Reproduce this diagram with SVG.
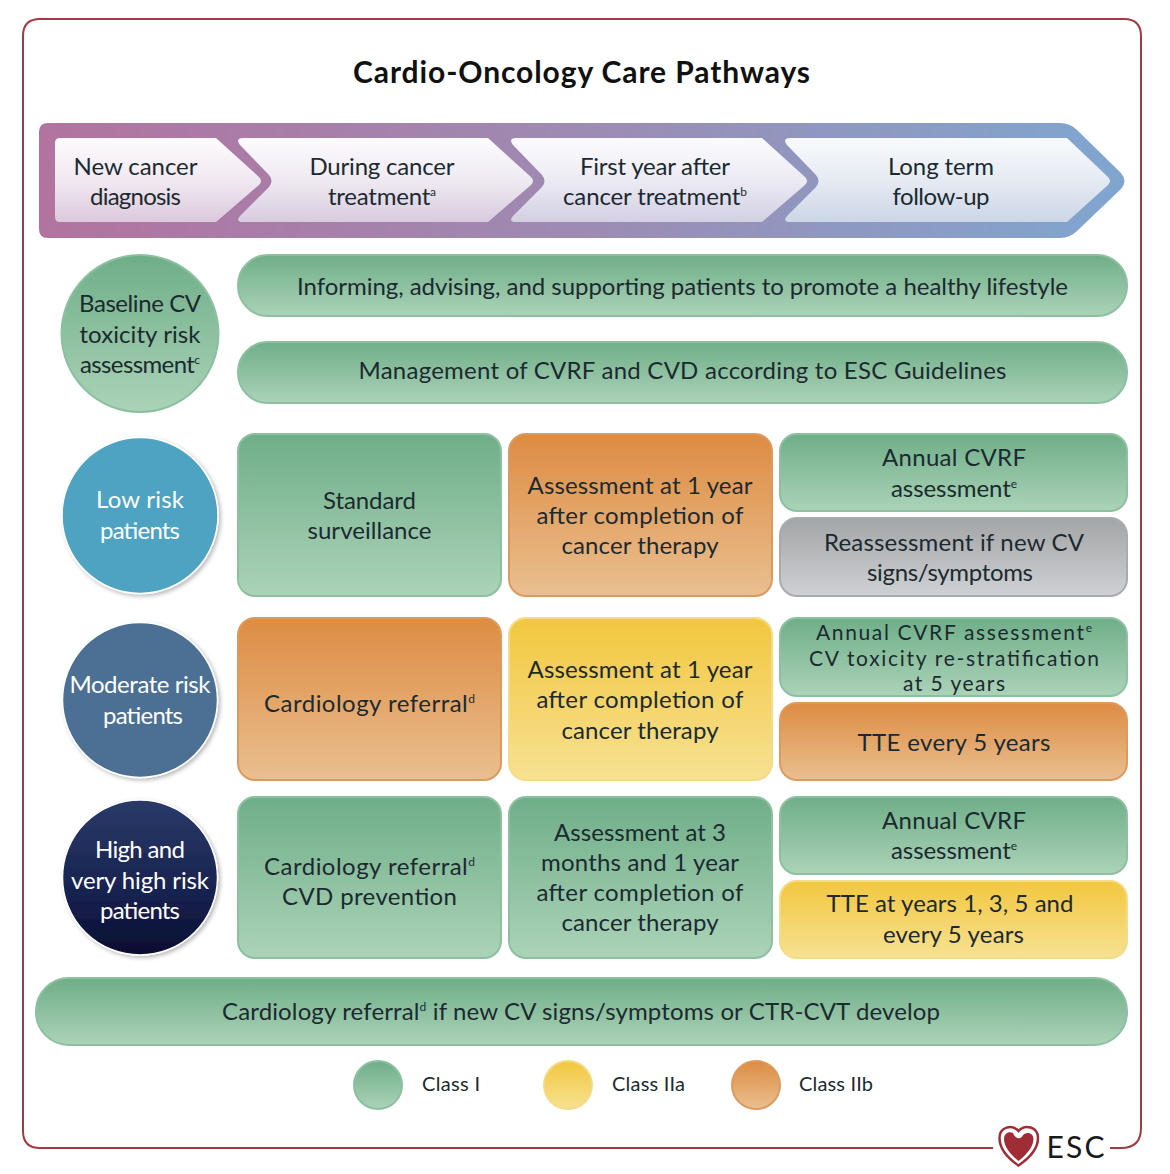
<svg xmlns="http://www.w3.org/2000/svg" width="1170" height="1174" viewBox="0 0 1170 1174">
<style>
text{font-family:"Lato","Open Sans","Liberation Sans",sans-serif;font-size:24px;fill:#1c2a30;text-anchor:middle}
.w{fill:#fff}
.sup{font-size:12px}
.g{fill:url(#green);stroke:#8cc0a0;stroke-width:2}
.o{fill:url(#orange);stroke:#dd9a5e;stroke-width:2}
.y{fill:url(#yellow);stroke:#f3dc85;stroke-width:2}
.s{fill:url(#grey);stroke:#a9abae;stroke-width:2}
.leg{font-size:20px}
.tight{font-size:21px}
.rim{stroke:#fff;stroke-width:1.500;filter:url(#sh)}
</style>
<defs>
<linearGradient id="green" x1="0" y1="0" x2="0" y2="1"><stop offset="0" stop-color="#6fae88"/><stop offset="1" stop-color="#abd3b8"/></linearGradient>
<linearGradient id="orange" x1="0" y1="0" x2="0" y2="1"><stop offset="0" stop-color="#dd8c42"/><stop offset="1" stop-color="#eabf90"/></linearGradient>
<linearGradient id="yellow" x1="0" y1="0" x2="0" y2="1"><stop offset="0" stop-color="#f2c73f"/><stop offset="1" stop-color="#f7e192"/></linearGradient>
<linearGradient id="grey" x1="0" y1="0" x2="0" y2="1"><stop offset="0" stop-color="#a3a4a6"/><stop offset="1" stop-color="#cfd1d4"/></linearGradient>
<linearGradient id="band" x1="0" y1="0" x2="1" y2="0"><stop offset="0" stop-color="#b2739f"/><stop offset="0.5" stop-color="#9d8bb3"/><stop offset="1" stop-color="#7fa6d0"/></linearGradient>
<linearGradient id="chev1" x1="0" y1="0" x2="0" y2="1"><stop offset="0" stop-color="#fdfbfd"/><stop offset="0.5" stop-color="#f1e9f1"/><stop offset="1" stop-color="#dcc9dc"/></linearGradient>
<linearGradient id="chev2" x1="0" y1="0" x2="0" y2="1"><stop offset="0" stop-color="#fcfbfd"/><stop offset="0.5" stop-color="#efeaf2"/><stop offset="1" stop-color="#d8cbde"/></linearGradient>
<linearGradient id="chev3" x1="0" y1="0" x2="0" y2="1"><stop offset="0" stop-color="#fbfbfe"/><stop offset="0.5" stop-color="#ecebf4"/><stop offset="1" stop-color="#d2cfe2"/></linearGradient>
<linearGradient id="chev4" x1="0" y1="0" x2="0" y2="1"><stop offset="0" stop-color="#f8fafd"/><stop offset="0.5" stop-color="#e6ebf3"/><stop offset="1" stop-color="#ccd6e6"/></linearGradient>
<linearGradient id="high" x1="0" y1="0" x2="0" y2="1"><stop offset="0" stop-color="#2a3a68"/><stop offset="0.6" stop-color="#18224f"/><stop offset="1" stop-color="#090d30"/></linearGradient>
<filter id="sh" x="-20%" y="-20%" width="140%" height="140%"><feDropShadow dx="2" dy="2" stdDeviation="2" flood-color="#000" flood-opacity="0.28"/></filter>
</defs>
<rect width="1170" height="1174" fill="#fff"/>
<g id="frame">
<path d="M993 1148H40Q23 1148 23 1131V36Q23 19 40 19H1124Q1141 19 1141 36V1128Q1141 1148 1121 1148H1110" fill="none" stroke="#a23a42" stroke-width="2"/>
<path d="M1018.500 1165.500C1009 1159 999.500 1149 999.500 1138C999.500 1127 1012 1123.500 1018.500 1131C1025 1123.500 1038 1127 1038 1138C1038 1149 1028 1159 1018.500 1165.500Z" fill="#fff" stroke="#a02c35" stroke-width="2.500"/>
<path d="M1018.500 1161C1011 1155 1004 1147 1004 1139C1004 1133 1009 1131 1013 1133C1015 1139 1021 1140 1023 1135C1027 1131 1033.500 1133 1033.500 1139C1033.500 1147 1026 1155 1018.500 1161Z" fill="#a02c35"/>
<text x="1075.500" y="1158" style="font-size:30px;fill:#1a1a1a" textLength="58">ESC</text>
</g>
<text id="title" x="581.500" y="83" style="font-size:30px;font-weight:700;fill:#111" textLength="457" lengthAdjust="spacing">Cardio-Oncology Care Pathways</text>
<g id="timeline">
<path d="M48 123H1060Q1070 123 1077 130L1121 173Q1128 181 1121 189L1077 231Q1070 238 1060 238H48Q39 238 39 229V132Q39 123 48 123Z" fill="url(#band)"/>
</g>
<g id="new-cancer-diagnosis">
<path d="M60 138H216L259 177Q263 181 259 185L216 222H60Q55 222 55 217V143Q55 138 60 138Z" fill="url(#chev1)"/>
<text x="135.500" y="175" textLength="124">New cancer</text><text x="135.500" y="205" textLength="91">diagnosis</text>
</g>
<g id="during-cancer-treatment">
<path d="M243 138H488L531 177Q535 181 531 185L488 222H243Q235 222 240 216L269 187Q274 181 269 175L240 145Q235 138 243 138Z" fill="url(#chev2)"/>
<text x="382" y="175" textLength="145">During cancer</text><text x="382" y="205" textLength="108">treatment<tspan class="sup" dy="-9">a</tspan></text>
</g>
<g id="first-year-after">
<path d="M516 138H762L805 177Q809 181 805 185L762 222H516Q508 222 513 216L542 187Q547 181 542 175L513 145Q508 138 516 138Z" fill="url(#chev3)"/>
<text x="655" y="175" textLength="150">First year after</text><text x="655" y="205" textLength="184">cancer treatment<tspan class="sup" dy="-9">b</tspan></text>
</g>
<g id="long-term-follow-up">
<path d="M790 138H1067L1108 177Q1112 181 1108 185L1067 222H790Q782 222 787 216L816 187Q821 181 816 175L787 145Q782 138 790 138Z" fill="url(#chev4)"/>
<text x="941" y="175" textLength="106">Long term</text><text x="941" y="205" textLength="97">follow-up</text>
</g>
<g id="baseline"><circle class="g" cx="140" cy="333.500" r="78.500"/>
<text x="140" y="312" textLength="122">Baseline CV</text><text x="140" y="343" textLength="121">toxicity risk</text><text x="140" y="373" textLength="120">assessment<tspan class="sup" dy="-9">c</tspan></text></g>
<g id="lifestyle"><rect class="g" x="238" y="255" width="889" height="61" rx="30"/>
<text x="682.500" y="295" textLength="771">Informing, advising, and supporting patients to promote a healthy lifestyle</text></g>
<g id="management"><rect class="g" x="238" y="342" width="889" height="61" rx="30"/>
<text x="682.500" y="379" textLength="648">Management of CVRF and CVD according to ESC Guidelines</text></g>
<g id="low-risk"><circle class="rim" cx="140" cy="515.500" r="78" fill="#4ea3c1"/>
<text class="w" x="140" y="508" textLength="88">Low risk</text><text class="w" x="140" y="539" textLength="80">patients</text></g>
<g id="low-1"><rect class="g" x="238" y="434" width="263" height="162" rx="17"/>
<text x="369.500" y="509" textLength="93">Standard</text><text x="369.500" y="539" textLength="124">surveillance</text></g>
<g id="low-2"><rect class="o" x="509" y="434" width="263" height="162" rx="17"/>
<text x="640" y="494" textLength="225">Assessment at 1 year</text><text x="640" y="524" textLength="207">after completion of</text><text x="640" y="554" textLength="157">cancer therapy</text></g>
<g id="low-3"><rect class="g" x="780" y="434" width="347" height="77" rx="17"/>
<text x="954" y="466" textLength="144">Annual CVRF</text><text x="954" y="497" textLength="126">assessment<tspan class="sup" dy="-9">e</tspan></text></g>
<g id="low-4"><rect class="s" x="780" y="518" width="347" height="78" rx="17"/>
<text x="954" y="551" textLength="260">Reassessment if new CV</text><text x="950" y="581" textLength="166">signs/symptoms</text></g>
<g id="moderate-risk"><circle class="rim" cx="140" cy="700" r="77.500" fill="#4b6f93"/>
<text class="w" x="140" y="693" textLength="141">Moderate risk</text><text class="w" x="143" y="724" textLength="80">patients</text></g>
<g id="mod-1"><rect class="o" x="238" y="618" width="263" height="162" rx="17"/>
<text x="369.500" y="712" textLength="211">Cardiology referral<tspan class="sup" dy="-9">d</tspan></text></g>
<g id="mod-2"><rect class="y" x="509" y="618" width="263" height="162" rx="17"/>
<text x="640" y="678" textLength="225">Assessment at 1 year</text><text x="640" y="708" textLength="207">after completion of</text><text x="640" y="739" textLength="157">cancer therapy</text></g>
<g id="mod-3"><rect class="g" x="780" y="618" width="347" height="78" rx="17"/>
<text class="tight" x="954" y="640" textLength="276">Annual CVRF assessment<tspan class="sup" dy="-8">e</tspan></text><text class="tight" x="954" y="665.500" textLength="290">CV toxicity re-stratification</text><text class="tight" x="954" y="691" textLength="102">at 5 years</text></g>
<g id="mod-4"><rect class="o" x="780" y="703" width="347" height="77" rx="17"/>
<text x="954" y="751" textLength="193">TTE every 5 years</text></g>
<g id="high-risk"><circle class="rim" cx="140" cy="877.500" r="77.500" fill="url(#high)"/>
<text class="w" x="140" y="858" textLength="90">High and</text><text class="w" x="140" y="889" textLength="138">very high risk</text><text class="w" x="140" y="919" textLength="80">patients</text></g>
<g id="high-1"><rect class="g" x="238" y="797" width="263" height="161" rx="17"/>
<text x="369.500" y="875" textLength="211">Cardiology referral<tspan class="sup" dy="-9">d</tspan></text><text x="369.500" y="905" textLength="175">CVD prevention</text></g>
<g id="high-2"><rect class="g" x="509" y="797" width="263" height="161" rx="17"/>
<text x="640" y="841" textLength="172">Assessment at 3</text><text x="640" y="871" textLength="198">months and 1 year</text><text x="640" y="901" textLength="207">after completion of</text><text x="640" y="931" textLength="157">cancer therapy</text></g>
<g id="high-3"><rect class="g" x="780" y="797" width="347" height="77" rx="17"/>
<text x="954" y="829" textLength="144">Annual CVRF</text><text x="954" y="859" textLength="126">assessment<tspan class="sup" dy="-9">e</tspan></text></g>
<g id="high-4"><rect class="y" x="780" y="881" width="347" height="77" rx="17"/>
<text x="950" y="912" textLength="247">TTE at years 1, 3, 5 and</text><text x="953.500" y="943" textLength="141">every 5 years</text></g>
<g id="referral"><rect class="g" x="36" y="978" width="1091" height="67" rx="33"/>
<text x="581" y="1020" textLength="718">Cardiology referral<tspan class="sup" dy="-9">d</tspan><tspan dy="9"> if new CV signs/symptoms or CTR-CVT develop</tspan></text></g>
<g id="legend-1"><circle class="g" cx="378" cy="1085" r="24"/><text class="leg" x="451" y="1091" textLength="58">Class I</text></g>
<g id="legend-2"><circle class="y" cx="568" cy="1085" r="24"/><text class="leg" x="648.500" y="1091" textLength="73">Class IIa</text></g>
<g id="legend-3"><circle class="o" cx="756" cy="1085" r="24"/><text class="leg" x="836" y="1091" textLength="74">Class IIb</text></g>
</svg>
